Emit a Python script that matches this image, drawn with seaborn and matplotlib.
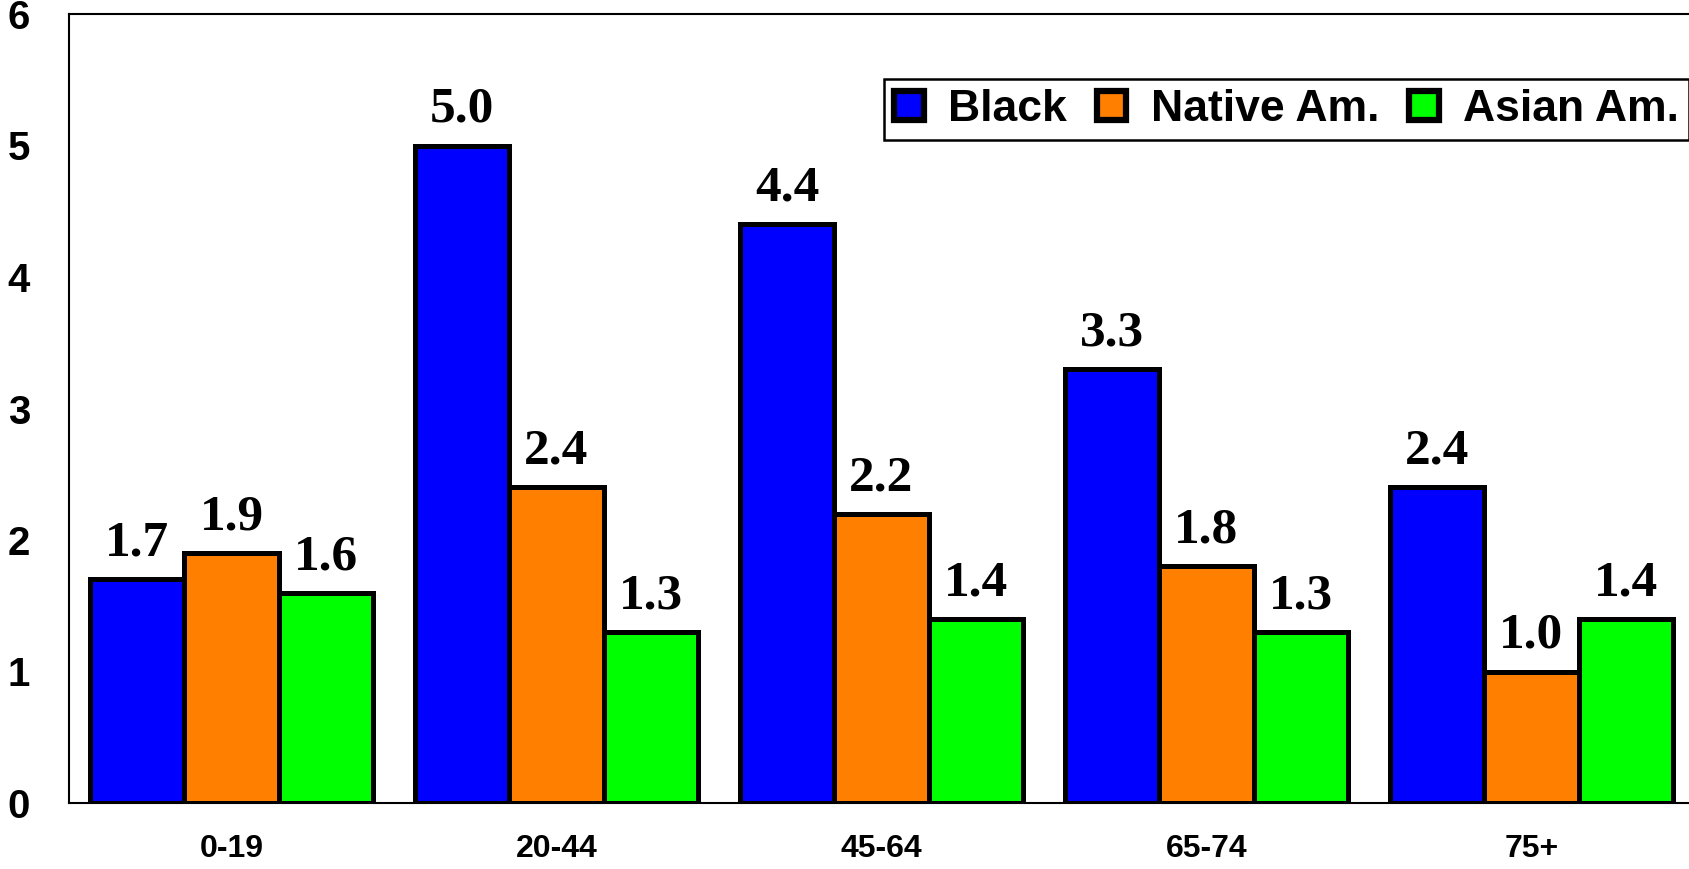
import matplotlib
matplotlib.use("Agg")
import matplotlib.pyplot as plt
import seaborn as sns
import pandas as pd
import numpy as np

categories = ["0-19", "20-44", "45-64", "65-74", "75+"]
series = ["Black", "Native Am.", "Asian Am."]
black = [1.7, 5.0, 4.4, 3.3, 2.4]
native = [1.9, 2.4, 2.2, 1.8, 1.0]
asian = [1.6, 1.3, 1.4, 1.3, 1.4]
colors = ["#0000FF", "#FF8000", "#00FF00"]

rows = []
for s, vals in zip(series, [black, native, asian]):
    for c, v in zip(categories, vals):
        rows.append({"age": c, "group": s, "value": v})
df = pd.DataFrame(rows)

sns.set_theme(style="white")
plt.rcParams["font.family"] = ["Liberation Sans", "DejaVu Sans"]
plt.rcParams["text.color"] = "black"
plt.rcParams["xtick.color"] = "black"
plt.rcParams["ytick.color"] = "black"
plt.rcParams["axes.labelcolor"] = "black"

W, H = 1690, 869
fig = plt.figure(figsize=(W / 100, H / 100), dpi=100)
ax = fig.add_axes([69 / W, 1 - 803 / H, 1625 / W, (803 - 14) / H])

sns.barplot(data=df, x="age", y="value", hue="group", order=categories,
            hue_order=series, palette=colors, width=0.87, gap=0,
            edgecolor="black", linewidth=3.6, saturation=1, ax=ax,
            legend=True)

for cont in ax.containers:
    ax.bar_label(cont, fmt="%.1f", padding=9, fontsize=37, color="black",
                 fontfamily="Liberation Serif", fontweight="bold")

ax.set_xlim(-0.5, len(categories) - 0.5)
ax.set_ylim(0, 6)
ax.set_yticks(range(0, 7))
ax.set_xlabel("")
ax.set_ylabel("")

for side in ["left", "bottom", "top", "right"]:
    ax.spines[side].set_visible(True)
    ax.spines[side].set_color("black")
    ax.spines[side].set_linewidth(1.5)

ax.tick_params(axis="y", which="major", direction="out", length=12,
               width=1.5, color="black", pad=16, labelsize=29,
               labelcolor="black")
for t in ax.get_yticklabels():
    t.set_fontweight("bold")

ax.set_xticks(np.arange(len(categories)))
ax.set_xticklabels(categories, fontsize=23, fontweight="bold", color="black")
ax.tick_params(axis="x", which="major", length=0, pad=22)
ax.set_xticks(np.arange(len(categories) + 1) - 0.5, minor=True)
ax.tick_params(axis="x", which="minor", direction="out", length=8,
               width=1.5, color="black")

leg = ax.legend(loc="upper left", bbox_to_anchor=(884 / W, 1 - 79 / H),
                bbox_transform=fig.transFigure, ncol=3, frameon=True,
                fancybox=False, framealpha=1, edgecolor="black",
                prop={"family": "Liberation Sans", "weight": "bold", "size": 32},
                handlelength=0.66, handleheight=0.62, handletextpad=0.55,
                columnspacing=0.68, borderpad=0.23, borderaxespad=0)
leg.get_frame().set_linewidth(1.8)
for h in leg.legend_handles:
    h.set_edgecolor("black")
    h.set_linewidth(4.5)
for t in leg.get_texts():
    t.set_color("black")

fig.savefig("out.png", dpi=100)
